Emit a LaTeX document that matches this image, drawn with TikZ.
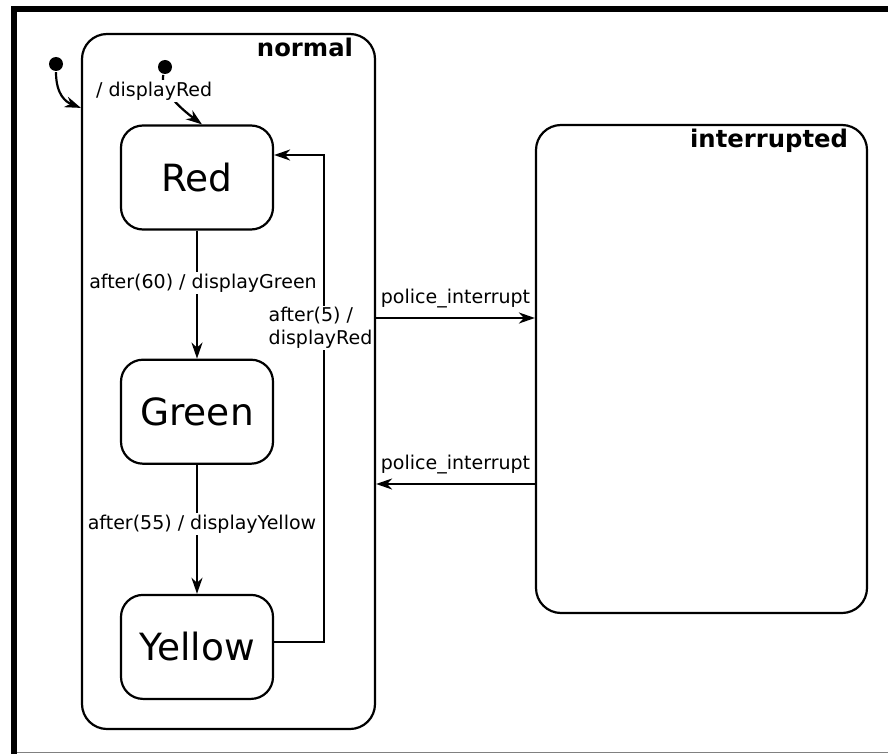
\documentclass[tikz,border=0pt]{standalone}
\usepackage{fontspec}
\setmainfont{DejaVu Sans}
\usetikzlibrary{arrows.meta,positioning,calc}

\begin{document}
\begin{tikzpicture}[
  x=1pt, y=-1pt, line width=2.2pt,
  >={Stealth[length=16pt,width=11pt,inset=5pt]},
  state/.style={draw, rounded corners=22pt, minimum width=152pt,
        minimum height=104pt, font=\fontsize{37.5}{42}\selectfont},
  region/.style={draw, rounded corners=25pt},
  regname/.style={anchor=base east, inner sep=0pt,
        font=\fontsize{24.3}{27}\selectfont\bfseries},
  initdot/.style={circle, fill=black, minimum size=14pt, inner sep=0pt},
  lab/.style={fill=white, inner sep=2pt, font=\fontsize{19}{23}\selectfont}
]
  \useasboundingbox (0,0) rectangle (888,754);
  % outer frame
  \draw[line width=6pt] (14,754) -- (14,9) -- (888,9);
  \draw[gray, line width=1.5pt] (17,752.5) -- (888,752.5);

  % composite states
  \node[region, minimum width=293pt, minimum height=695pt] (normal) at (228.5,381.5) {};
  \node[region, minimum width=331pt, minimum height=488pt] (interrupted) at (701.5,369) {};
  \node[regname] at ($(normal.north east)+(-22,24)$) {normal};
  \node[regname] at ($(interrupted.north east)+(-19,24)$) {interrupted};

  % simple states
  \node[state] (Red) at (197,177.5) {Red};
  \node[state, below=128pt of Red] (Green) {Green};
  \node[state, below=129pt of Green] (Yellow) {Yellow};

  % initial states
  \node[initdot] (init) at (56,64) {};
  \node[initdot] (initred) at (165,67) {};
  \coordinate (entry) at ($(normal.north west)+(0,75)$);
  \draw[->] (init) .. controls (56,95) and (66,102) .. (entry);
  \draw[->] (initred) .. controls (160,90) and (180,108) .. ([xshift=5pt]Red.north)
        node[lab, pos=0.4, xshift=-15pt, yshift=3pt] {/ displayRed};

  % transitions inside normal
  \draw[->] (Red) -- node[lab, pos=0.41, xshift=6pt] {after(60) / displayGreen} (Green);
  \draw[->] (Green) -- node[lab, pos=0.46, xshift=5pt] {after(55) / displayYellow} (Yellow);
  \coordinate (loopx) at (324,0);
  \coordinate (yelout) at ([yshift=5pt]Yellow.east);
  \coordinate (redin) at ([yshift=22.5pt]Red.east);
  \draw[->] (yelout) -- (yelout -| loopx)
        -- node[lab, inner sep=1pt, pos=0.645, xshift=-3.5pt, align=left] {after(5) /\\displayRed} (redin -| loopx)
        -- (redin);

  % transitions between normal and interrupted
  \coordinate (pa) at ([yshift=63.5pt]normal.east);
  \coordinate (pb) at ([yshift=-102.5pt]normal.east);
  \draw[->] (pa) -- node[lab, above=7pt] {police\_interrupt} (pa -| interrupted.west);
  \draw[->] (pb -| interrupted.west) -- node[lab, above=7pt] {police\_interrupt} (pb);
\end{tikzpicture}
\end{document}
